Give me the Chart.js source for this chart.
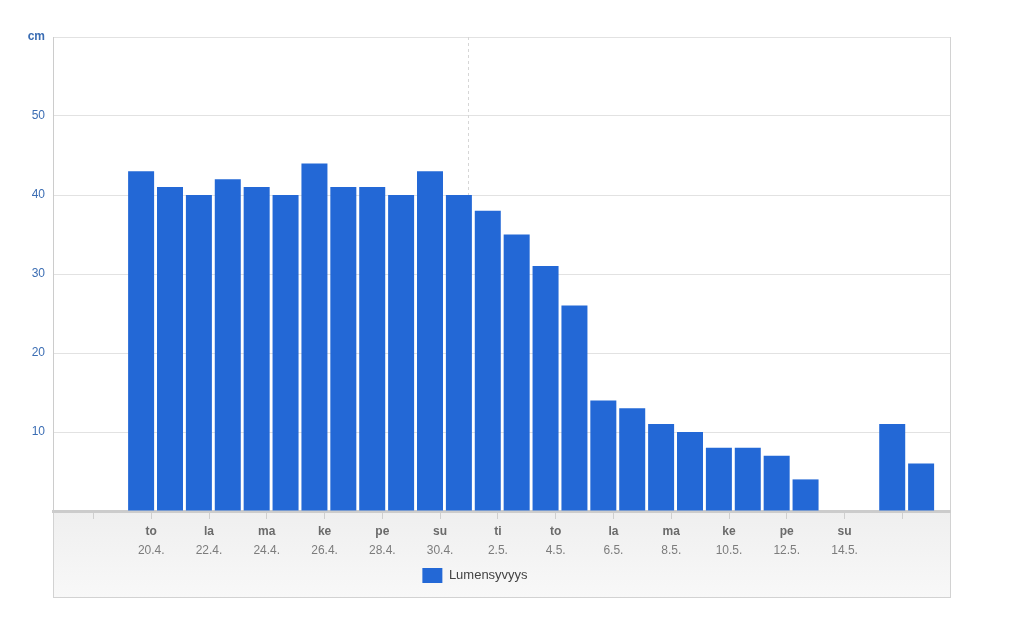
<!DOCTYPE html>
<html>
<head>
<meta charset="utf-8">
<title>Lumensyvyys</title>
<script src="https://cdn.jsdelivr.net/npm/chart.js@4.4.1/dist/chart.umd.min.js"></script>
<style>
  body { margin: 0; background: #fff; }
  #wrap { width: 1024px; height: 617px; }
</style>
</head>
<body>
<div id="wrap"><canvas id="myChart"></canvas></div>
<script>
// days shown as bars, one per day from 20.4. to 17.5.
var days = ['20.4.', '21.4.', '22.4.', '23.4.', '24.4.', '25.4.', '26.4.', '27.4.', '28.4.', '29.4.',
    '30.4.', '1.5.', '2.5.', '3.5.', '4.5.', '5.5.', '6.5.', '7.5.', '8.5.', '9.5.',
    '10.5.', '11.5.', '12.5.', '13.5.', '14.5.', '15.5.', '16.5.', '17.5.']
// snow depth in cm, null = no measurement
var snowDepth = [43, 41, 40, 42, 41, 40, 44, 41, 41, 40,
    43, 40, 38, 35, 31, 26, 14, 13, 11, 10,
    8, 8, 7, 4, null, null, 11, 6]

// x axis ticks (in days from 20.4.) and their two label rows
var tickDays = [-1.65, 0.35, 2.35, 4.35, 6.35, 8.35, 10.35, 12.35, 14.35, 16.35, 18.35, 20.35, 22.35, 24.35, 26.35]
var tickWeekdays = ['', 'to', 'la', 'ma', 'ke', 'pe', 'su', 'ti', 'to', 'la', 'ma', 'ke', 'pe', 'su', '']
var tickDates = ['', '20.4.', '22.4.', '24.4.', '26.4.', '28.4.', '30.4.', '2.5.', '4.5.', '6.5.', '8.5.', '10.5.', '12.5.', '14.5.', '']

var yTicks = [0, 10, 20, 30, 40, 50, 60]
var yUnit = 'cm'
var todayMark = 11.31

var xMin = -3.05
var xMax = 28.0

function setTicks(scale) {
    scale.ticks = tickDays.map(function (v) { return { value: v } })
}

// gray frame, x axis panel and dashed marker line
var frame = {
    id: 'frame',
    beforeDraw: function (chart) {
        var ctx = chart.ctx
        var a = chart.chartArea
        var boxBottom = chart.height - 20
        ctx.save()
        var g = ctx.createLinearGradient(0, a.bottom, 0, boxBottom)
        g.addColorStop(0, '#efefef')
        g.addColorStop(1, '#f8f8f8')
        ctx.fillStyle = g
        ctx.fillRect(a.left, a.bottom, a.right - a.left, boxBottom - a.bottom)
        ctx.strokeStyle = '#d2d2d2'
        ctx.lineWidth = 1
        ctx.strokeRect(a.left + 0.5, a.top + 0.5, a.right - a.left, boxBottom - a.top)
        ctx.restore()
    },
    beforeDatasetsDraw: function (chart) {
        var ctx = chart.ctx
        var a = chart.chartArea
        var x = Math.round(chart.scales.x.getPixelForValue(todayMark)) + 0.5
        ctx.save()
        ctx.strokeStyle = '#d6d6d6'
        ctx.setLineDash([3, 3])
        ctx.beginPath()
        ctx.moveTo(x, a.top)
        ctx.lineTo(x, a.bottom)
        ctx.stroke()
        ctx.restore()
    }
}

var chart = new Chart(document.getElementById('myChart'), {
    type: 'bar',
    data: {
        datasets: [
            {
                label: 'Lumensyvyys',
                backgroundColor: '#2368d6',
                borderWidth: 0,
                barPercentage: 0.9,
                categoryPercentage: 1,
                data: snowDepth.map(function (v, i) { return { x: i, y: v } })
            }
        ]
    },
    options: {
        responsive: true,
        maintainAspectRatio: false,
        animation: false,
        layout: { padding: { top: 37, right: 74, bottom: 24, left: 0 } },
        plugins: {
            tooltip: { enabled: false },
            legend: {
                position: 'bottom',
                labels: {
                    boxWidth: 20,
                    boxHeight: 15,
                    padding: 10,
                    color: '#444',
                    font: { family: 'Arial, "Liberation Sans"', size: 13 }
                }
            }
        },
        scales: {
            x: {
                type: 'linear',
                min: xMin,
                max: xMax,
                offset: false,
                afterBuildTicks: setTicks,
                afterFit: function (scale) { scale.height = 28 },
                grid: { offset: false, drawOnChartArea: false, drawTicks: true, tickLength: 8, color: '#cfcfcf' },
                border: { display: true, color: '#cccccc', width: 3 },
                ticks: {
                    autoSkip: false,
                    maxRotation: 0,
                    padding: 5,
                    color: '#6a6a6a',
                    font: { family: 'Arial, "Liberation Sans"', size: 12, weight: 'bold' },
                    callback: function (v, i) { return tickWeekdays[i] }
                }
            },
            x2: {
                type: 'linear',
                position: 'bottom',
                min: xMin,
                max: xMax,
                offset: false,
                afterBuildTicks: setTicks,
                afterFit: function (scale) { scale.height = 19 },
                grid: { display: false, drawTicks: false },
                border: { display: false },
                ticks: {
                    autoSkip: false,
                    maxRotation: 0,
                    padding: 4,
                    color: '#7c7c7c',
                    font: { family: 'Arial, "Liberation Sans"', size: 12 },
                    callback: function (v, i) { return tickDates[i] }
                }
            },
            y: {
                min: 0,
                max: 60,
                afterBuildTicks: function (scale) {
                    scale.ticks = yTicks.map(function (v) { return { value: v } })
                },
                afterFit: function (scale) { scale.width = 53 },
                grid: { color: '#e2e2e2', drawTicks: false },
                border: { display: true, color: '#cccccc', width: 1 },
                ticks: {
                    padding: 8,
                    color: '#3b6db3',
                    font: function (c) {
                        return { family: 'Arial, "Liberation Sans"', size: 12, weight: c.tick && c.tick.value === 60 ? 'bold' : 'normal' }
                    },
                    callback: function (v) {
                        if (v === 0) return ''
                        return v === 60 ? yUnit : v
                    }
                }
            }
        }
    },
    plugins: [frame]
})
</script>
</body>
</html>
